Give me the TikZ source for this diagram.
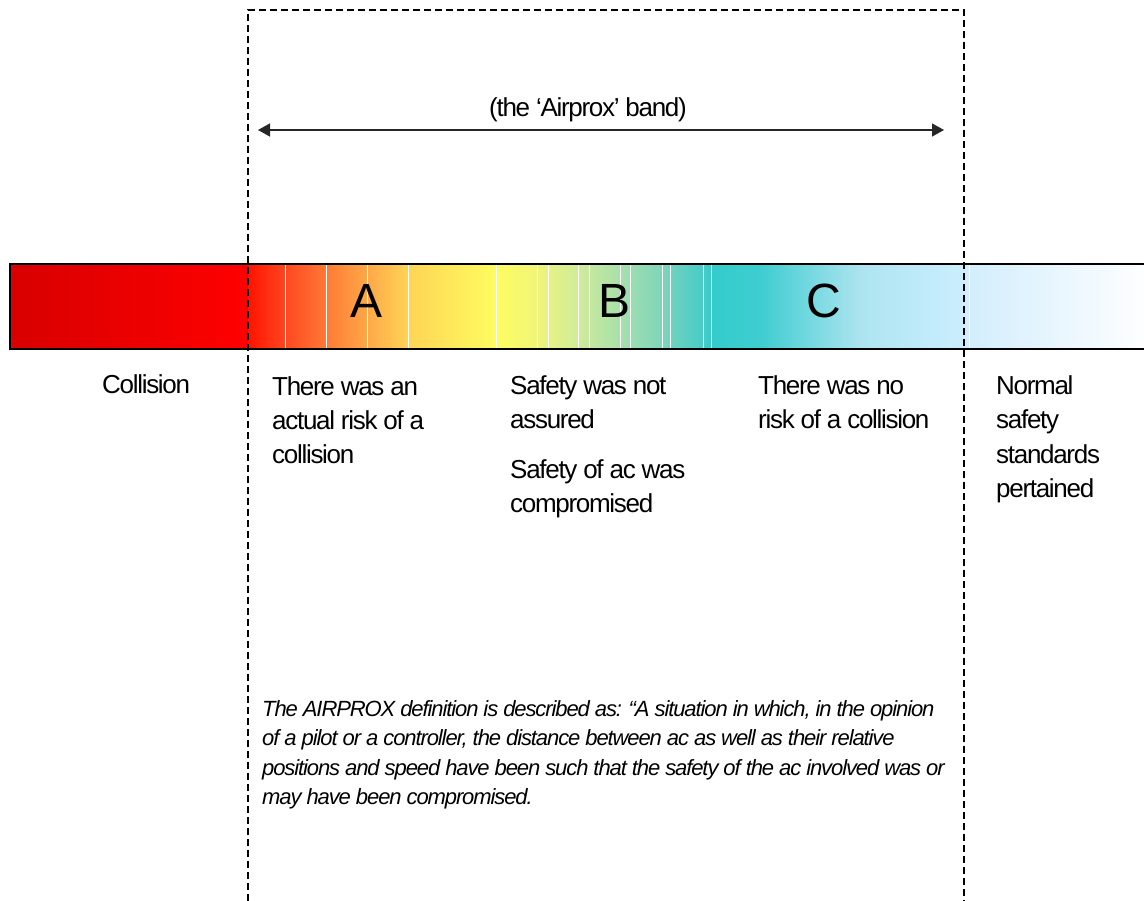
\documentclass[tikz,border=0pt]{standalone}
\usepackage{fontspec}
\setmainfont{Liberation Sans}[LetterSpace=-5]
\usepackage{tikz}
\usetikzlibrary{arrows.meta}

% band colours, left to right
\definecolor{k0}{HTML}{D80000}
\definecolor{k1}{HTML}{FF0000}
\definecolor{k2}{HTML}{FF1400}
\definecolor{k3}{HTML}{FF4722}
\definecolor{k4}{HTML}{FF7A35}
\definecolor{k5}{HTML}{FFA848}
\definecolor{k6}{HTML}{FFD455}
\definecolor{k7}{HTML}{FDFD60}
\definecolor{k8}{HTML}{F0F578}
\definecolor{k9}{HTML}{E6F285}
\definecolor{k10}{HTML}{D0EC98}
\definecolor{k11}{HTML}{C5E8A0}
\definecolor{k12}{HTML}{A8E0AA}
\definecolor{k13}{HTML}{9CDDB0}
\definecolor{k14}{HTML}{7ED5BA}
\definecolor{k15}{HTML}{70D2BD}
\definecolor{k16}{HTML}{45CCC8}
\definecolor{k17}{HTML}{33CCCC}
\definecolor{k18}{HTML}{3ECDD0}
\definecolor{k19}{HTML}{ADE4F0}
\definecolor{k20}{HTML}{CCEEFF}
\definecolor{k21}{HTML}{D2EDFD}
\definecolor{k22}{HTML}{FFFFFF}

\begin{document}
\begin{tikzpicture}[
    x=1pt, y=-1pt,
    txt/.style      = {anchor=base west, align=left, inner sep=0pt,
                       font=\fontsize{26}{34.5}\selectfont},
    letter/.style   = {inner sep=0pt, font=\fontsize{48}{50}\selectfont},
    note/.style     = {anchor=base west, align=left, inner sep=0pt,
                       font=\fontsize{22}{29.5}\selectfont\itshape},
    seam/.style     = {white, line width=0.9pt},
    dashline/.style = {dash pattern=on 7pt off 4pt, line width=2pt},
    arr/.style      = {{Triangle[length=12pt,width=13pt]}-{Triangle[length=12pt,width=13pt]},
                       line width=1.4pt, draw=black!85},
]
\useasboundingbox (0,0) rectangle (1144,901);

% --- the colour band ---
\foreach \xa/\xb/\ca/\cb in {10/248/k0/k1, 248/285/k2/k3, 285/326/k3/k4,
    326/367/k4/k5, 367/408/k5/k6, 408/496/k6/k7, 496/537/k7/k8,
    537/548/k8/k9, 548/578/k9/k10, 578/589/k10/k11, 589/620/k11/k12,
    620/630/k12/k13, 630/662/k13/k14, 662/670/k14/k15, 670/703/k15/k16,
    703/711/k16/k17, 711/760/k17/k18, 760/860/k18/k19, 860/964/k19/k20,
    964/1150/k21/k22}
  \shade[left color=\ca, right color=\cb] (\xa,264) rectangle ({\xb+0.6},349);
\foreach \xs in {285,326,367,408,496,537,548,578,589,620,630,662,670,703,711,969}
  \draw[seam] (\xs,265) -- (\xs,348);
\draw[line width=1.3pt] (10,264) rectangle (1150,349);

% --- band letters ---
\node[letter] (la) at (367,301) {A};
\node[letter] (lb) at (615,301) {B};
\node[letter] (lc) at (824,301) {C};

% --- dashed frame of the Airprox band ---
\coordinate (boxbl) at (248,901);
\coordinate (boxtl) at (248,10);
\coordinate (boxtr) at (964,10);
\coordinate (boxbr) at (964,901);
\draw[dashline] (boxbl) -- (boxtl) -- (boxtr) -- (boxbr);

% --- band arrow ---
\coordinate (arrl) at (258,130);
\coordinate (arrr) at (944,130);
\draw[arr] (arrl) -- (arrr);
\node[txt, anchor=base] (bandlbl) at (588,117) {(the ‘Airprox’ band)};

% --- captions under the band (base = last line) ---
\node[txt] (collision) at (102,394) {Collision};
\node[txt] (riska) at (272,464) {There was an\\actual risk of a\\collision};
\node[txt] (riskb) at (510,428.5) {Safety was not\\assured};
\node[txt] (riskb2) at (510,512.5) {Safety of ac was\\compromised};
\node[txt] (riskc) at (758,428.5) {There was no\\risk of a collision};
\node[txt] (normal) at (996,497.5) {Normal\\safety\\standards\\pertained};

% --- definition ---
\node[note] (defn) at (262,804.5)
  {The AIRPROX definition is described as: “A situation in which, in the opinion\\
   of a pilot or a controller, the distance between ac as well as their relative\\
   positions and speed have been such that the safety of the ac involved was or\\
   may have been compromised.};

\end{tikzpicture}
\end{document}
